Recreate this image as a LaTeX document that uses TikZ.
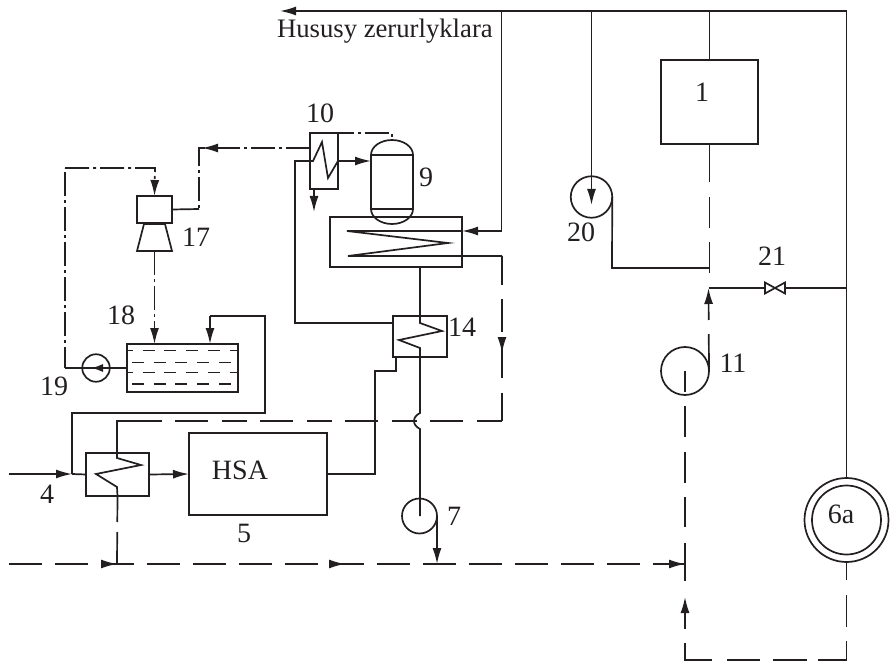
\documentclass[tikz,border=0pt]{standalone}
\usepackage{fontspec}
\setmainfont{Liberation Serif}
\definecolor{inkblack}{RGB}{35, 31, 32}
\usetikzlibrary{arrows.meta, decorations.markings}
\tikzset{
  pipe/.style={draw=inkblack, line width=1.7pt},
  flow/.style={-{Latex[length=16pt, width=9pt]}},
  flowat/.style={postaction={decorate, decoration={markings, mark=at position #1 with {\arrow{Latex[length=16pt, width=9pt]}}}}},
  longdash/.style={dash pattern=on 33.5pt off 12.5pt},
  dashdot/.style={dash pattern=on 24pt off 4pt on 3pt off 4pt},
  liquid/.style={draw=inkblack, line width=1.4pt, dash pattern=on 12pt off 9.7pt},
  equip/.style={draw=inkblack, line width=1.7pt, rectangle, inner sep=0pt, outer sep=0pt},
  pump/.style={draw=inkblack, line width=1.7pt, circle, inner sep=0pt, outer sep=0pt},
  tag/.style={inner sep=0pt, outer sep=0pt, text=inkblack, font=\fontsize{28}{30}\selectfont}
}
\begin{document}
\begin{tikzpicture}[x=1pt, y=-1pt]
  \useasboundingbox (0, 0) rectangle (892, 663);

  \node[equip, minimum width=97pt, minimum height=84pt] (box1) at (709.5, 102) {};
  \node[equip, minimum width=138pt, minimum height=82pt] (hsa) at (258, 474) {};
  \node[equip, minimum width=63pt, minimum height=43pt] (hx4) at (117.5, 474.5) {};
  \node[equip, minimum width=28pt, minimum height=56pt] (hx10) at (324, 161) {};
  \node[equip, minimum width=54pt, minimum height=41pt] (hx14) at (420, 336.5) {};
  \node[equip, minimum width=132pt, minimum height=50pt] (hx9) at (396, 242) {};
  \node[equip, minimum width=42pt, minimum height=54pt] (vessel9) at (392, 182) {};
  \node[equip, minimum width=111pt, minimum height=48pt] (tank18) at (182.5, 368) {};
  \node[equip, minimum width=35pt, minimum height=27pt] (comp17) at (154.5, 209.5) {};
  \node[inner sep=0pt, outer sep=0pt, minimum width=35pt, minimum height=27pt] (nozzle17) at (154.5, 237.5) {};
  \node[pump, minimum size=27.5pt] (pump19) at (96, 368) {};
  \node[pump, minimum size=35pt] (pump7) at (419.5, 516) {};
  \node[pump, minimum size=48pt] (pump11) at (685, 371) {};
  \node[pump, minimum size=41.5pt] (pump20) at (591.5, 197) {};
  \node[pump, minimum size=84pt] (pump6a) at (846.5, 520) {};
  \node[pump, minimum size=69pt] (pump6b) at (846.5, 520) {};
  \node[inner sep=0pt, outer sep=0pt, minimum width=20pt, minimum height=11pt] (valve21) at (775, 288) {};

  \coordinate (topright) at (846.5, 11);
  \coordinate (topleft) at (280, 11);
  \coordinate (tapcoil) at (501.5, 11);
  \coordinate (feedin) at (8.5, 474);
  \coordinate (feedjoin) at (72, 474);
  \coordinate (mainin) at (8.5, 564);
  \coordinate (mainlast) at (669, 564);
  \coordinate (mainend) at (685, 564);
  \coordinate (mainjoin4) at (117, 564);
  \coordinate (mainjoin7) at (437, 564);
  \coordinate (hotcorner) at (502, 421);
  \coordinate (hot4) at (141, 421);
  \coordinate (dashend) at (685, 582);
  \coordinate (retcornerr) at (846.5, 660);
  \coordinate (retcornerl) at (685, 660);
  \coordinate (rettip) at (685, 597);
  \coordinate (valvetip) at (708.5, 288);
  \coordinate (valveright) at (846.5, 288);

  \draw[pipe, flow] (topright) -- (topleft);
  \draw[pipe] (topright) -- (pump6a.north);
  \draw[pipe] (box1.north) -- (box1.north |- topright);
  \draw[pipe, flow] (tapcoil) -- (501.5, 231) -- (462, 231);
  \draw[pipe] (462, 231) -- (347, 231) -- (448, 243) -- (348, 256) -- (502, 256);
  \draw[pipe, dash pattern=on 29pt off 14pt on 33pt off 13pt on 33pt off 14.5pt on 30pt off 60pt, flowat=97pt] (502, 256) -- (hotcorner);
  \draw[pipe, dash pattern=on 25pt off 14pt on 33pt off 13pt] (hotcorner) -- (hot4);
  \draw[pipe] (hot4) -- (117, 421) -- (117, 458) -- (141, 465) -- (96, 474) -- (117, 487) -- (hx4.south);
  \draw[pipe, dash pattern=on 26pt off 10pt on 40pt off 20pt] (hx4.south) -- (mainjoin4);
  \draw[pipe, longdash, flowat=108.5pt, flowat=336.5pt] (mainin) -- (mainend);
  \draw[pipe, flow] (mainlast) -- (mainend);

  \draw[pipe, flow] (feedin) -- (feedjoin);
  \draw[pipe] (feedjoin) -- (hx4.west);
  \draw[pipe, flow] (hx4.east) -- (hsa.west);
  \draw[pipe] (feedjoin) -- (72, 413) -- (265, 413) -- (265, 316) -- (210, 316);
  \draw[pipe, flow] (210, 316) -- (210, 344);

  \draw[pipe] (hsa.east) -- (375, 474) -- (375, 371) -- (396, 371) -- (396, 357);
  \draw[pipe] (420, 267) -- (420, 323) -- (442, 331) -- (399, 340) -- (420, 348) -- (420, 413) .. controls (412, 417) and (412, 425) .. (420, 429) -- (420, 516);
  \draw[pipe, flow] (pump7.east) -- (mainjoin7);

  \draw[pipe] (393, 323) -- (295, 323) -- (295, 161) -- (313, 161) -- (322, 142) -- (328, 178) -- (hx10.east);
  \draw[pipe, flow] (hx10.east) -- (vessel9.west |- hx10.east);
  \draw[pipe, flow] (314, 189) -- (314, 212);

  \draw[pipe] (vessel9.north west) arc[start angle=180, end angle=0, x radius=21pt, y radius=15pt];
  \draw[pipe] (vessel9.south west) arc[start angle=180, end angle=360, x radius=21pt, y radius=15pt];
  \draw[pipe, dashdot, dash phase=8pt] (hx10.north east) -- (392, 133) -- (392, 140);

  \draw[pipe, dashdot, flowat=108pt] (310, 148) -- (199, 148) -- (199, 209);
  \draw[pipe] (199, 209) -- (comp17.east);
  \draw[pipe] (tank18.west) -- (65, 368);
  \draw[pipe, -{Latex[length=12pt, width=8pt]}] (102, 368) -- (91, 368);
  \draw[pipe, dashdot, dash phase=3pt] (65, 368) -- (65, 168);
  \draw[pipe, dashdot, flow] (65, 168) -- (155, 168) -- (comp17.north);
  \draw[pipe] (nozzle17.south west) -- (nozzle17.south east) -- ([xshift=-7pt]nozzle17.north east) -- ([xshift=7pt]nozzle17.north west) -- cycle;
  \draw[pipe, dashdot, flow] (nozzle17.south) -- (nozzle17.south |- tank18.north);

  \draw[liquid, dash phase=6pt] (127, 350.7) -- (238, 350.7);
  \draw[liquid] (132, 362.5) -- (232, 362.5);
  \draw[liquid, dash phase=6pt] (127, 372.5) -- (238, 372.5);
  \draw[liquid] (132, 384) -- (232, 384);

  \draw[pipe, flow] (pump20 |- topright) -- (591.5, 205);
  \draw[pipe] (pump20.east) -- (612, 268) -- (709, 268);
  \draw[pipe, dash pattern=on 38pt off 15pt on 31pt off 14pt on 31pt off 20pt] (box1.south) -- (709.5, 273);

  \draw[pipe, dash pattern=on 37pt off 14pt on 40pt off 20pt, flow] (pump11.east) -- (valvetip);
  \draw[pipe] (valvetip) -- (valve21.west);
  \draw[pipe] (valve21.east) -- (valveright);
  \draw[pipe] (valve21.south west) -- (valve21.north east) -- (valve21.south east) -- (valve21.north west) -- cycle;

  \draw[pipe, dash pattern=on 21pt off 14pt on 31pt off 15pt on 31pt off 14pt on 30pt off 16pt on 38pt off 60pt] (pump11.center) -- (dashend);
  \draw[pipe, dash pattern=on 18pt off 15pt on 32pt off 14pt on 48pt off 11pt on 34pt off 13pt on 33pt off 15pt on 44pt off 14pt on 32pt off 60pt, flow] (pump6a.south) -- (retcornerr) -- (retcornerl) -- (rettip);

  \node[tag, anchor=base west, font=\fontsize{26.7}{30}\selectfont] (users) at (277, 38) {Hususy zerurlyklara};
  \node[tag] (lab1) at (702, 92) {1};
  \node[tag] (lab4) at (47, 494) {4};
  \node[tag] (lab5) at (244, 533) {5};
  \node[tag] (lab6a) at (841, 514) {6a};
  \node[tag] (lab7) at (454, 516) {7};
  \node[tag] (lab9) at (426, 177) {9};
  \node[tag] (lab10) at (320, 113) {10};
  \node[tag] (lab11) at (733, 363) {11};
  \node[tag] (lab14) at (462, 327) {14};
  \node[tag] (lab17) at (196, 237) {17};
  \node[tag] (lab18) at (121, 315) {18};
  \node[tag] (lab19) at (54, 386) {19};
  \node[tag] (lab20) at (581, 232) {20};
  \node[tag] (lab21) at (772, 256) {21};
  \node[tag] (labhsa) at (240, 470) {HSA};
\end{tikzpicture}
\end{document}
